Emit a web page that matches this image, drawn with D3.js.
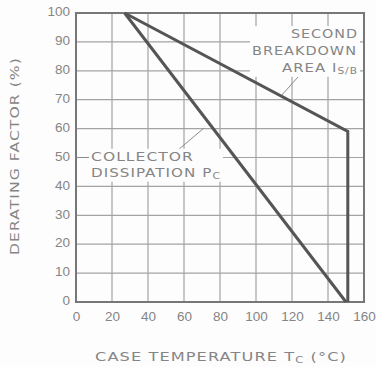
<!DOCTYPE html>
<html>
<head>
<meta charset="utf-8">
<script src="https://cdn.jsdelivr.net/npm/d3@7/dist/d3.min.js"></script>
<style>
  html, body { margin: 0; padding: 0; background: #fdfdfd; }
  svg { display: block; }
  text { fill: #858585; }
</style>
</head>
<body>
<svg id="chart" width="376" height="367"></svg>
<script>
// Derating curves: case temperature (°C) vs derating factor (%)
const xTicks = [0, 20, 40, 60, 80, 100, 120, 140, 160];
const yTicks = [0, 10, 20, 30, 40, 50, 60, 70, 80, 90, 100];
const collectorTemp = [27, 150];
const collectorFactor = [100, 0];
const breakdownTemp = [27, 151, 151];
const breakdownFactor = [100, 59, 0];

const svg = d3.select("#chart");
const margin = { left: 76, right: 12, top: 13, bottom: 65 };
const W = 376, H = 367;
const labelFont = "DejaVu Sans, Verdana, sans-serif";

const x = d3.scaleLinear().domain([0, 160]).range([margin.left, W - margin.right]);
const y = d3.scaleLinear().domain([0, 100]).range([H - margin.bottom, margin.top]);

// grid
const grid = svg.append("g").attr("stroke", "#a3a3a3").attr("stroke-width", 1.2);
grid.selectAll("line.v").data(xTicks.slice(1, -1)).join("line")
  .attr("x1", d => x(d)).attr("x2", d => x(d))
  .attr("y1", y(0)).attr("y2", y(100));
grid.selectAll("line.h").data(yTicks.slice(1, -1)).join("line")
  .attr("x1", x(0)).attr("x2", x(160))
  .attr("y1", d => y(d)).attr("y2", d => y(d));

// frame
svg.append("rect")
  .attr("x", x(0)).attr("y", y(100))
  .attr("width", x(160) - x(0)).attr("height", y(0) - y(100))
  .attr("fill", "none").attr("stroke", "#777").attr("stroke-width", 2);

// axes (labels only)
const xAxis = d3.axisBottom(x).tickValues(xTicks).tickSize(0).tickPadding(9);
const yAxis = d3.axisLeft(y).tickValues(yTicks).tickSize(0).tickPadding(6);
const gx = svg.append("g").attr("transform", `translate(0,${y(0)})`).call(xAxis);
const gy = svg.append("g").attr("transform", `translate(${x(0)},0)`).call(yAxis);
[gx, gy].forEach(g => {
  g.select(".domain").remove();
  g.selectAll("text").attr("font-size", 13.5).attr("fill", "#8a8a8a")
    .attr("font-family", "Liberation Sans, Arial, sans-serif");
});
gy.selectAll("text").attr("dy", "0.2em");

// wide caption text: drawn at the origin, then stretched to the given width
function wideText(parent, parts, left, base, width, rotate) {
  const g = parent.append("g");
  const t = g.append("text").attr("font-family", labelFont).attr("font-size", 12)
    .attr("letter-spacing", 0.8);
  parts.forEach(p => {
    const s = t.append("tspan").text(p.t);
    if (p.sub) s.attr("font-size", 8.5).attr("dy", 2);
    if (p.up) s.attr("dy", -2);
  });
  const bw = t.node().getComputedTextLength();
  const k = width / bw;
  g.attr("transform", rotate
    ? `translate(${left},${base}) rotate(-90) scale(${k},1)`
    : `translate(${left},${base}) scale(${k},1)`);
  return g;
}

function label(lines) {
  const g = svg.append("g");
  lines.forEach(l => wideText(g, l.parts, l.x, l.y, l.w));
  const b = g.node().getBBox();
  g.insert("rect", ":first-child")
    .attr("x", b.x - 2).attr("y", b.y - 1)
    .attr("width", b.width + 4).attr("height", b.height + 2)
    .attr("fill", "#fdfdfd");
  return g;
}

// leader lines
const leaders = svg.append("g").attr("stroke", "#8a8a8a").attr("stroke-width", 1);
leaders.append("line").attr("x1", 298).attr("y1", 77).attr("x2", 281).attr("y2", 96);
leaders.append("line").attr("x1", 178).attr("y1", 150).attr("x2", 204).attr("y2", 128);
leaders.append("line").attr("x1", x(0)).attr("y1", y(50)).attr("x2", 90).attr("y2", y(50));

label([
  { parts: [{ t: "SECOND" }], x: 291, y: 38, w: 67 },
  { parts: [{ t: "BREAKDOWN" }], x: 252, y: 55, w: 105 },
  { parts: [{ t: "AREA  I" }, { t: "S/B", sub: true }], x: 282, y: 72, w: 76 }
]);

label([
  { parts: [{ t: "COLLECTOR" }], x: 91, y: 161, w: 103 },
  { parts: [{ t: "DISSIPATION  P" }, { t: "C", sub: true }], x: 91, y: 177, w: 130 }
]);

// curves
const line = d3.line().x(d => x(d[0])).y(d => y(d[1]));
const curves = svg.append("g").attr("fill", "none").attr("stroke", "#555")
  .attr("stroke-width", 3).attr("stroke-linejoin", "miter");
curves.append("path").attr("d", line(d3.zip(collectorTemp, collectorFactor)));
curves.append("path").attr("d", line(d3.zip(breakdownTemp, breakdownFactor)));

// axis titles
wideText(svg, [{ t: "DERATING FACTOR (%)" }], 19, 255, 198, true);
wideText(svg, [{ t: "CASE TEMPERATURE   T" }, { t: "C", sub: true }, { t: " (°C)", up: true }],
  95, 361, 252);
</script>
</body>
</html>
